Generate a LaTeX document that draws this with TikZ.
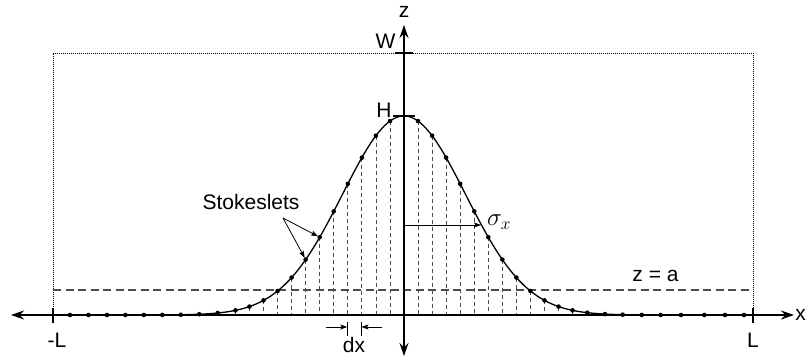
\documentclass[tikz,border=0pt]{standalone}
\usepackage{fontspec}
\setmainfont{Liberation Sans}
\usetikzlibrary{arrows.meta}
\begin{document}
\begin{tikzpicture}[x=1pt,y=-1pt,
  lbl/.style={inner sep=0pt, font=\fontsize{21}{25}\selectfont},
  axisline/.style={line width=1.3pt},
  bigtip/.style={-{Stealth[length=13pt,width=9pt]}},
  thintip/.style={-{Stealth[length=7pt,width=5pt,inset=1.5pt]}, line width=0.8pt},
  boxline/.style={line width=0.9pt, dash pattern=on 1pt off 1pt},
  levelline/.style={line width=1.1pt, dash pattern=on 8pt off 4.5pt, black!70},
  vline/.style={line width=0.8pt, dash pattern=on 4pt off 3pt, black!70},
  curveline/.style={line width=1.3pt},
  dotmark/.style={fill=black},
  tickline/.style={line width=1.1pt}
]
\useasboundingbox (0,0) rectangle (806,360);
% key coordinates
\coordinate (O) at (404,315);
\coordinate (xl) at (11,315);
\coordinate (xr) at (794,315);
\coordinate (zt) at (404,25);
\coordinate (zb) at (404,356);
\coordinate (BL) at (53,315);
\coordinate (TL) at (53,53);
\coordinate (TR) at (753,53);
\coordinate (BR) at (753,315);
\coordinate (aL) at (53,290);
\coordinate (aR) at (753,290);
% dotted box
\draw[boxline] (BL) -- (TL) -- (TR) -- (BR);
% level z = a
\draw[levelline] (aL) -- (aR);
% inner stokeslets with dashed verticals
\foreach \k in {-12,...,-1,1,2,...,12}{
  \pgfmathsetmacro{\px}{404+14.05*\k}
  \pgfmathsetmacro{\pt}{(14.05*\k)/61.5}
  \pgfmathsetmacro{\py}{315-199*exp(-\pt*\pt/2)}
  \coordinate (p\k) at (\px,\py);
  \coordinate (b\k) at (\px,315);
  \draw[vline] (p\k) -- (b\k);
}
% axes
\draw[axisline,bigtip] (O) -- (xr);
\draw[axisline,bigtip] (O) -- (xl);
\draw[axisline,bigtip] (O) -- (zt);
\draw[axisline,bigtip] (O) -- (zb);
% curve
\draw[curveline] plot[domain=-5.707:5.675, samples=300] ({404+61.5*\x},{315-199*exp(-\x*\x/2)});
% inner dots
\foreach \k in {-12,...,-1,1,2,...,12}{
  \fill[dotmark] (p\k) circle (2.3pt);
}
% outer dots
\foreach \X in {70,88.5,107,125.4,143.9,162.3,180.8,199.2,217.7,587.3,605,622.7,641.7,660.7,681,704.3,725,744}{
  \pgfmathsetmacro{\pt}{(\X-404)/61.5}
  \pgfmathsetmacro{\py}{315-199*exp(-\pt*\pt/2)}
  \fill[dotmark] (\X,\py) circle (2.3pt);
}
% ticks
\draw[tickline] (53,308) -- (53,323);
\draw[tickline] (753,308) -- (753,323);
\draw[tickline] (395,53) -- (413,53);
\draw[tickline] (393,116) -- (415,116);
% dx marks
\coordinate (dxa) at (347.3,322);
\coordinate (dxb) at (347.3,336);
\coordinate (dxc) at (361.5,322);
\coordinate (dxd) at (361.5,336);
\draw[line width=0.8pt] (dxa) -- (dxb);
\draw[line width=0.8pt] (dxc) -- (dxd);
\coordinate (dxl) at (326,327);
\coordinate (dxr) at (382,327);
\draw[thintip] (dxl) -- (347.3,327);
\draw[thintip] (dxr) -- (361.5,327);
% sigma arrow
\coordinate (s0) at (404,225);
\coordinate (s1) at (481,225);
\draw[thintip] (s0) -- (s1);
% labels
\node[lbl, anchor=base] (zlab) at (404,17.5) {z};
\node[lbl, anchor=base] (Wlab) at (385.5,48) {W};
\node[lbl, anchor=base] (Hlab) at (384,117.5) {H};
\node[lbl, anchor=base] (stk) at (251,209) {Stokeslets};
\node[inner sep=0pt, font=\fontsize{24}{28}\selectfont] (sig) at (499,222) {$\sigma_x$};
\node[lbl, anchor=base] (za) at (655.5,281.5) {z = a};
\node[lbl, anchor=base] (mL) at (57,347) {-L};
\node[lbl, anchor=base] (pL) at (753,347) {L};
\node[lbl, anchor=base] (dx) at (354,352) {dx};
\node[lbl, anchor=base east] (xlab) at (806,320) {x};
% stokeslet pointers
\coordinate (sa) at (283,218);
\draw[thintip, shorten >=2pt] (sa) -- (p-6);
\draw[thintip, shorten >=2pt] (sa) -- (p-7);
\end{tikzpicture}
\end{document}
